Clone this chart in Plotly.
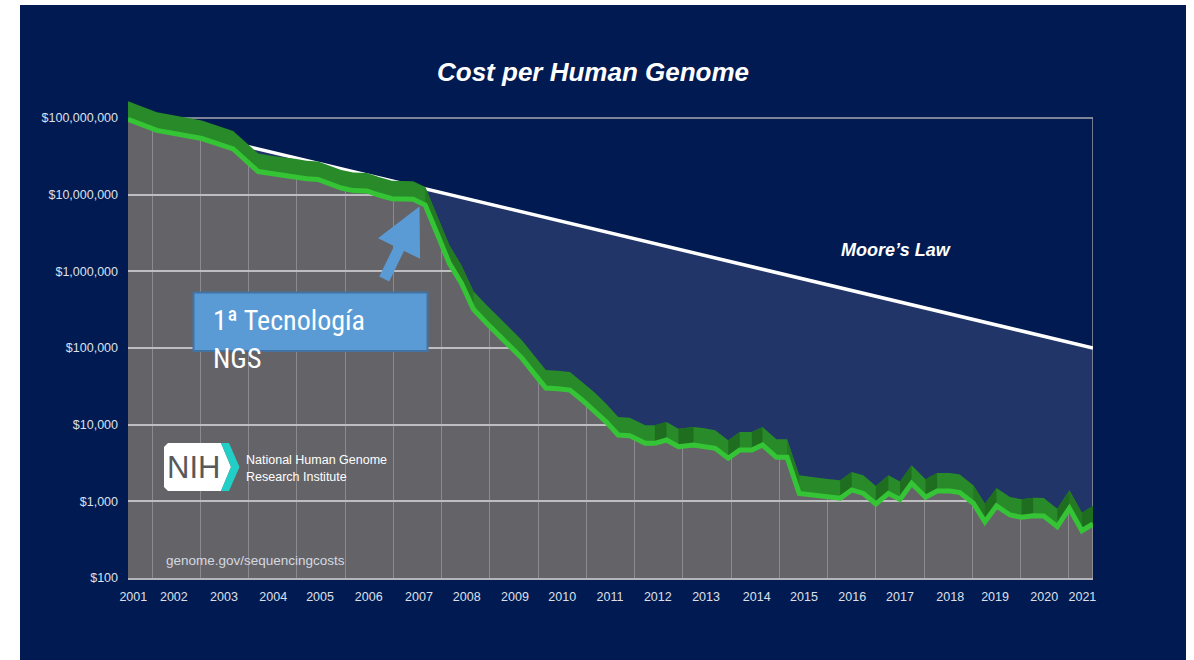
import math
import plotly.graph_objects as go

# ---------------- data ----------------
years = [2001.00, 2001.60, 2002.53, 2003.18, 2003.70, 2004.00, 2004.46, 2004.70, 2004.94,
         2005.18, 2005.42, 2005.67, 2005.95, 2006.20, 2006.47, 2006.91, 2007.16, 2007.41,
         2007.66, 2007.91, 2008.16, 2008.41, 2008.66, 2008.91, 2009.16, 2009.41, 2009.66,
         2009.91, 2010.16, 2010.41, 2010.66, 2010.91, 2011.16, 2011.40, 2011.72, 2011.92,
         2012.16, 2012.41, 2012.72, 2012.92, 2013.17, 2013.44, 2013.68, 2013.93, 2014.15,
         2014.44, 2014.66, 2014.91, 2015.24, 2015.50, 2015.76, 2016.00, 2016.24, 2016.50,
         2016.76, 2017.00, 2017.24, 2017.53, 2017.77, 2018.04, 2018.24, 2018.52, 2018.76,
         2019.00, 2019.28, 2019.52, 2019.76, 2019.98, 2020.26, 2020.51, 2020.77, 2021.00]

cost = [96.0e6, 69.0e6, 54.0e6, 39.5e6, 20.0e6, 18.6e6, 17.1e6, 16.1e6, 15.8e6,
        13.8e6, 12.2e6, 11.3e6, 11.2e6, 9.9e6, 8.85e6, 8.73e6, 7.33e6, 3.07e6,
        1.27e6, 700e3, 320e3, 218e3, 152e3, 106e3, 74e3, 47e3, 30e3,
        29.5e3, 28.3e3, 21e3, 15.5e3, 10.9e3, 7.33e3, 7.18e3, 5.71e3, 5.71e3,
        6.31e3, 5.16e3, 5.43e3, 5.26e3, 4.92e3, 3.65e3, 4.68e3, 4.68e3, 5.43e3,
        3.75e3, 3.75e3, 1270, 1190, 1140, 1100, 1410, 1270, 923,
        1270, 1060, 1720, 1130, 1360, 1360, 1300, 944, 542,
        869, 664, 619, 650, 644, 467, 811, 414, 507]

moore_years = [2001, 2021]
moore_cost = [1e8, 1e5]

year_labels = ["2001", "2002", "2003", "2004", "2005", "2006", "2007", "2008", "2009", "2010",
               "2011", "2012", "2013", "2014", "2015", "2016", "2017", "2018", "2019", "2020", "2021"]
year_label_pos = [2001.11, 2001.95, 2002.99, 2004.01, 2004.98, 2005.99, 2007.03, 2008.02, 2009.02,
                  2010.00, 2010.99, 2011.98, 2012.98, 2014.03, 2015.01, 2016.01, 2017.00, 2018.04,
                  2018.97, 2019.99, 2020.78]
grid_years = [2001.5 + i for i in range(20)]

cost_ticks = [1e2, 1e3, 1e4, 1e5, 1e6, 1e7, 1e8]
cost_labels = ["$100", "$1,000", "$10,000", "$100,000", "$1,000,000", "$10,000,000", "$100,000,000"]

assert len(years) == len(cost)

# ---------------- style ----------------
NAVY = "#011a52"
BLUE = "#213568"
GRAY = "#646468"
BAND_FACTOR = 10 ** 0.235
X0, X1 = 2001, 2021
YTOP = 10 ** 8.3

# pixel helpers for decorations (plot area: x 128..1093, y 95..578)
PL, PR, PT, PB = 128, 1093, 95, 578
W, H = 1194, 660


def px(x):
    return (x - PL) / (PR - PL)


def py(y):
    return (PB - y) / (PB - PT)


fig = go.Figure()

# navy area above Moore's law line
fig.add_trace(go.Scatter(x=[X0, X1, X1, X0], y=[YTOP, YTOP, moore_cost[1], moore_cost[0]],
                         fill="toself", fillcolor=NAVY, line=dict(width=0), mode="lines",
                         hoverinfo="skip", showlegend=False))
# blue area between Moore's law and the cost curve
fig.add_trace(go.Scatter(x=moore_years + years[::-1], y=moore_cost + cost[::-1],
                         fill="toself", fillcolor=BLUE, line=dict(width=0), mode="lines",
                         hoverinfo="skip", showlegend=False))
# frame: top line at $100M and right edge
fig.add_trace(go.Scatter(x=[X0, X1], y=[cost_ticks[-1], cost_ticks[-1]], mode="lines",
                         line=dict(color="#a9a9b0", width=1.5), hoverinfo="skip", showlegend=False))
fig.add_trace(go.Scatter(x=[X1, X1], y=[cost_ticks[0], cost_ticks[-1]], mode="lines",
                         line=dict(color="#9a9aa2", width=1.5), hoverinfo="skip", showlegend=False))
# Moore's law line
fig.add_trace(go.Scatter(x=moore_years, y=moore_cost, mode="lines",
                         line=dict(color="white", width=3.5), hoverinfo="skip", showlegend=False))

# 3D green band
band_top = [c * BAND_FACTOR for c in cost]
fig.add_trace(go.Scatter(x=years + years[::-1], y=band_top + cost[::-1],
                         fill="toself", fillcolor="#288a28", line=dict(width=0), mode="lines",
                         hoverinfo="skip", showlegend=False))
dark_x, dark_y, mid_x, mid_y = [], [], [], []
for i in range(len(years) - 1):
    d = (math.log10(cost[i + 1]) - math.log10(cost[i])) / (years[i + 1] - years[i])
    quad_x = [years[i], years[i + 1], years[i + 1], years[i], None]
    quad_y = [cost[i], cost[i + 1], band_top[i + 1], band_top[i], None]
    if d > 0.02:
        dark_x += quad_x
        dark_y += quad_y
    elif d < -0.9:
        mid_x += quad_x
        mid_y += quad_y
fig.add_trace(go.Scatter(x=mid_x, y=mid_y, fill="toself", fillcolor="#237a23",
                         line=dict(width=0), mode="lines", hoverinfo="skip", showlegend=False))
fig.add_trace(go.Scatter(x=dark_x, y=dark_y, fill="toself", fillcolor="#1f6e1f",
                         line=dict(width=0), mode="lines", hoverinfo="skip", showlegend=False))
# bright cost line
fig.add_trace(go.Scatter(x=years, y=cost, mode="lines", line=dict(color="#35c435", width=5),
                         name="Cost per genome", showlegend=False))

# ---------------- shapes ----------------
shapes = [
    # white page margins around the navy slide
    dict(type="rect", xref="paper", yref="paper", layer="above",
         x0=px(-5), x1=px(20), y0=py(670), y1=py(-5), fillcolor="white", line=dict(width=0)),
    dict(type="rect", xref="paper", yref="paper", layer="above",
         x0=px(-5), x1=px(1200), y0=py(5), y1=py(-5), fillcolor="white", line=dict(width=0)),
    dict(type="rect", xref="paper", yref="paper", layer="above",
         x0=px(1186), x1=px(1200), y0=py(670), y1=py(-5), fillcolor="white", line=dict(width=0)),
    # NGS box
    dict(type="rect", xref="paper", yref="paper", layer="above",
         x0=px(193.5), x1=px(427.5), y0=py(351), y1=py(292.5),
         fillcolor="#5b9bd5", line=dict(color="#4273a3", width=2)),
]
# NIH logo
white_pts = [(168, 443), (221, 443), (231, 467), (221, 491), (168, 491), (164, 487), (164, 447)]
teal_pts = [(221, 443), (229, 443), (239.5, 467), (229, 491), (221, 491), (231, 467)]


def path(pts):
    return "M " + " L ".join(f"{px(a):.5f},{py(b):.5f}" for a, b in pts) + " Z"


shapes.append(dict(type="path", xref="paper", yref="paper", layer="above", path=path(white_pts),
                   fillcolor="white", line=dict(width=0)))
shapes.append(dict(type="path", xref="paper", yref="paper", layer="above", path=path(teal_pts),
                   fillcolor="#22cfc6", line=dict(width=0)))

SANS = "Liberation Sans, Arial, Helvetica, sans-serif"
NARROW = "Liberation Sans Narrow, Roboto Condensed, Arial Narrow, sans-serif"

annotations = [
    dict(text="<b><i>Cost per Human Genome</i></b>", x=px(593), y=py(72), xref="paper", yref="paper",
         showarrow=False, xanchor="center", yanchor="middle",
         font=dict(family=SANS, size=26, color="white")),
    dict(text="<b><i>Moore’s Law</i></b>", x=px(839), y=py(250), xref="paper", yref="paper",
         showarrow=False, xanchor="left", yanchor="middle",
         font=dict(family=SANS, size=18, color="white")),
    dict(text="1ª Tecnología", x=px(211), y=py(320), xref="paper", yref="paper",
         showarrow=False, xanchor="left", yanchor="middle",
         font=dict(family=NARROW, size=28, color="white")),
    dict(text="NGS", x=px(211), y=py(358), xref="paper", yref="paper",
         showarrow=False, xanchor="left", yanchor="middle",
         font=dict(family=NARROW, size=28, color="white")),
    dict(text="NIH", x=px(193), y=py(467), xref="paper", yref="paper",
         showarrow=False, xanchor="center", yanchor="middle",
         font=dict(family=SANS, size=31, color="#58595b")),
    dict(text="National Human Genome", x=px(244), y=py(460), xref="paper", yref="paper",
         showarrow=False, xanchor="left", yanchor="middle",
         font=dict(family=SANS, size=12.5, color="white")),
    dict(text="Research Institute", x=px(244), y=py(477), xref="paper", yref="paper",
         showarrow=False, xanchor="left", yanchor="middle",
         font=dict(family=SANS, size=12.5, color="white")),
    dict(text="genome.gov/sequencingcosts", x=px(164), y=py(560), xref="paper", yref="paper",
         showarrow=False, xanchor="left", yanchor="middle",
         font=dict(family=SANS, size=13.5, color="#d6d8e0")),
    # arrow pointing to first NGS technology
    dict(text="", x=px(419.5), y=py(206.5), xref="paper", yref="paper",
         showarrow=True, ax=-36, ay=74, axref="pixel", ayref="pixel",
         arrowhead=2, arrowsize=0.85, arrowwidth=11, arrowcolor="#5b9bd5", standoff=0),
]

fig.update_layout(
    width=W, height=H,
    margin=dict(l=PL, r=W - PR, t=PT, b=H - PB),
    paper_bgcolor=NAVY,
    plot_bgcolor=GRAY,
    showlegend=False,
    shapes=shapes,
    annotations=annotations,
    xaxis=dict(range=[X0, X1], tickmode="array", tickvals=year_label_pos, ticktext=year_labels,
               showgrid=False, zeroline=False, ticks="", showline=True, linecolor="#b4b4ba",
               linewidth=2, ticklabelstandoff=6,
               tickfont=dict(family=SANS, size=12.5, color="#dde0ea"),
               minor=dict(tickmode="array", tickvals=grid_years, showgrid=True,
                          gridcolor="#8a8a90", gridwidth=1, ticks="")),
    yaxis=dict(type="log", range=[2, 8.3], tickmode="array", tickvals=cost_ticks, ticktext=cost_labels,
               showgrid=True, gridcolor="#bdbdc2", gridwidth=1.5, zeroline=False, ticks="",
               showline=False, ticklabelstandoff=9,
               tickfont=dict(family=SANS, size=12.5, color="#dde0ea")),
)

fig.write_html("out.html", config={"displayModeBar": False},
               post_script="document.body.style.margin='0px';")
